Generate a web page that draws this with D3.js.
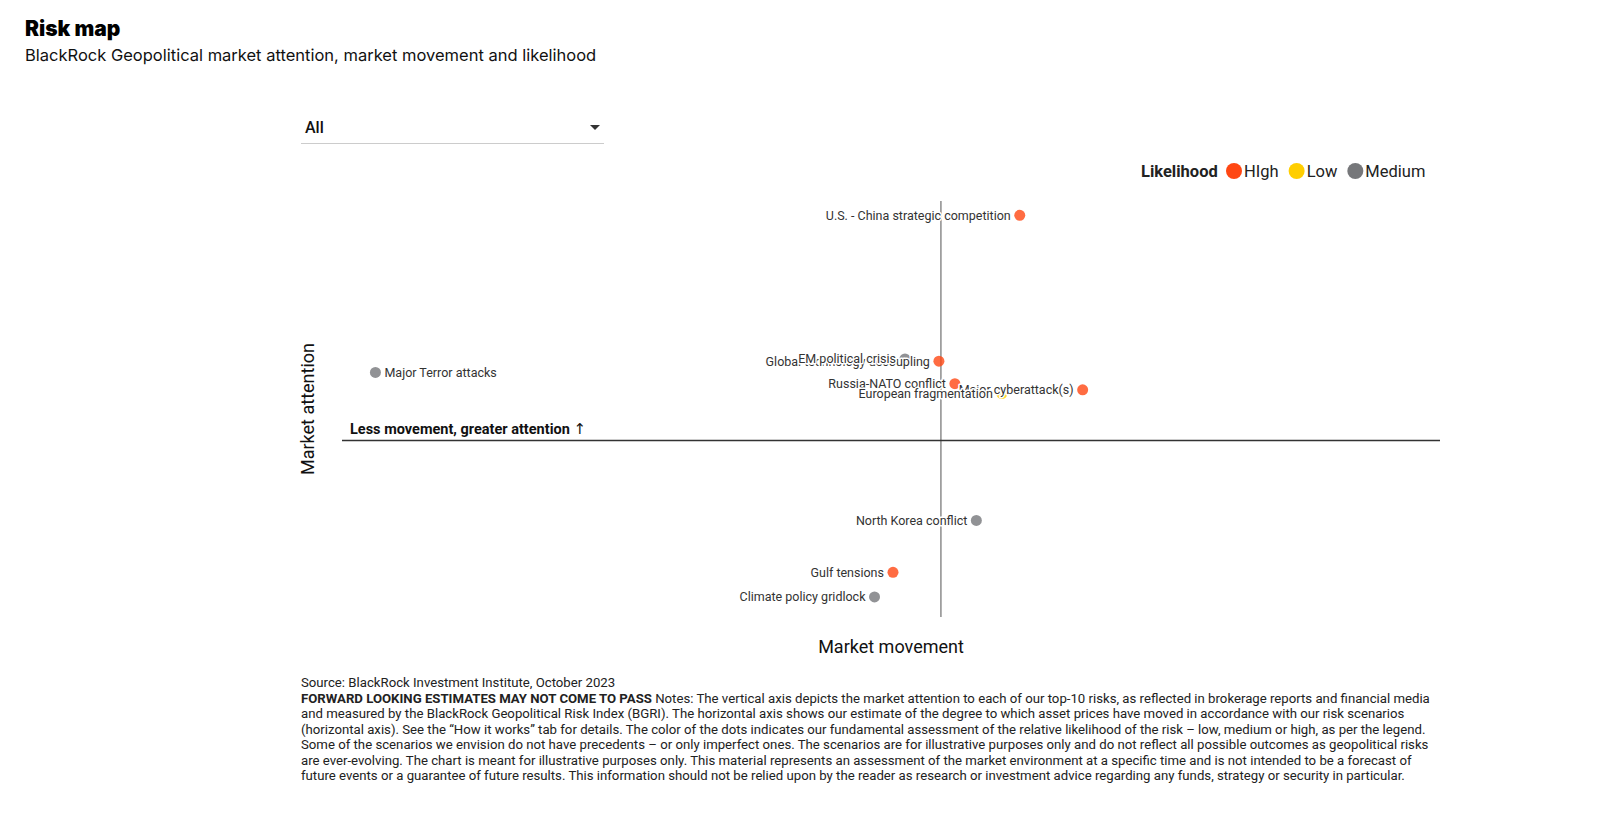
<!DOCTYPE html>
<html>
<head>
<meta charset="utf-8">
<script src="https://cdn.jsdelivr.net/npm/d3@7"></script>
<style>
  html, body { margin: 0; padding: 0; background: #fff; }
  svg { display: block; font-family: Roboto, "Noto Sans", sans-serif; }
</style>
</head>
<body>
<svg id="chart" width="1600" height="816"></svg>
<script>
// ---------- data ----------
const risks = [
  "U.S. - China strategic competition",
  "Global technology decoupling",
  "EM political crisis",
  "Major Terror attacks",
  "Russia-NATO conflict",
  "Major cyberattack(s)",
  "European fragmentation",
  "North Korea conflict",
  "Gulf tensions",
  "Climate policy gridlock"
];
const movement  = [0.158, -0.004, -0.072, -1.133, 0.028, 0.284, 0.122, 0.071, -0.096, -0.133];
const attention = [1.786, 0.629, 0.647, 0.540, 0.451, 0.402, 0.373, -0.634, -1.046, -1.241];
const likelihood = ["HIgh", "HIgh", "Medium", "Medium", "HIgh", "HIgh", "Low", "Medium", "HIgh", "Medium"];
const likelihoodLevels = ["HIgh", "Low", "Medium"];
const likelihoodColors = ["#ff4713", "#ffce00", "#76777a"];

const footnoteLines = [
  "Source: BlackRock Investment Institute, October 2023",
  "Notes: The vertical axis depicts the market attention to each of our top-10 risks, as reflected in brokerage reports and financial media",
  "and measured by the BlackRock Geopolitical Risk Index (BGRI). The horizontal axis shows our estimate of the degree to which asset prices have moved in accordance with our risk scenarios",
  "(horizontal axis). See the \u201cHow it works\u201d tab for details. The color of the dots indicates our fundamental assessment of the relative likelihood of the risk \u2013 low, medium or high, as per the legend.",
  "Some of the scenarios we envision do not have precedents \u2013 or only imperfect ones. The scenarios are for illustrative purposes only and do not reflect all possible outcomes as geopolitical risks",
  "are ever-evolving. The chart is meant for illustrative purposes only. This material represents an assessment of the market environment at a specific time and is not intended to be a forecast of",
  "future events or a guarantee of future results. This information should not be relied upon by the reader as research or investment advice regarding any funds, strategy or security in particular."
];
const footnoteBold = "FORWARD LOOKING ESTIMATES MAY NOT COME TO PASS";

const data = risks.map((r, i) => ({ name: r, x: movement[i], y: attention[i], l: likelihood[i] }));

// ---------- layout ----------
const svg = d3.select("#chart");
const plotLeft = 342, plotRight = 1440, plotTop = 201, plotBottom = 617;

const x = d3.scaleLinear().domain([-1.2, 1.0]).range([plotLeft, plotRight]);
const y = d3.scaleLinear().domain([-1.4, 1.9]).range([plotBottom, plotTop]);
const color = d3.scaleOrdinal().domain(likelihoodLevels).range(likelihoodColors);

// title
svg.append("text").attr("x", 25).attr("y", 36)
  .style("font-family", "Inter, Roboto, sans-serif").style("font-weight", 900)
  .style("font-size", "21px").attr("fill", "#000").text("Risk map");
svg.append("text").attr("x", 25).attr("y", 61)
  .style("font-family", "Inter, Roboto, sans-serif").style("font-size", "16.5px")
  .attr("fill", "#111").text("BlackRock Geopolitical market attention, market movement and likelihood");

// dropdown
svg.append("text").attr("x", 305).attr("y", 133)
  .style("font-size", "16px").style("font-weight", 500).attr("fill", "#111").text("All");
svg.append("path").attr("d", "M590,125 L600,125 L595,130 Z").attr("fill", "#333");
svg.append("line").attr("x1", 301).attr("x2", 604).attr("y1", 143.5).attr("y2", 143.5)
  .attr("stroke", "#ccc").attr("stroke-width", 1);

// legend
const legend = svg.append("g").attr("transform", "translate(0,171)");
legend.append("text").attr("x", 1141).attr("y", 6).style("font-size", "16.5px").style("font-weight", 700)
  .attr("fill", "#222").text("Likelihood");
let lx = 1234;
likelihoodLevels.forEach(lv => {
  legend.append("circle").attr("cx", lx).attr("cy", 0).attr("r", 8).attr("fill", color(lv));
  const t = legend.append("text").attr("x", lx + 10).attr("y", 6).style("font-size", "16.5px")
    .attr("fill", "#222").text(lv);
  lx += 10 + t.node().getComputedTextLength() + 18;
});

// zero lines
svg.append("line").attr("x1", x(0)).attr("x2", x(0)).attr("y1", plotTop).attr("y2", plotBottom)
  .attr("stroke", "#8c8c8c").attr("stroke-width", 1.5);
svg.append("line").attr("x1", plotLeft).attr("x2", plotRight).attr("y1", y(0)).attr("y2", y(0))
  .attr("stroke", "#333").attr("stroke-width", 1.5);

svg.append("text").attr("x", 350).attr("y", y(0) - 7)
  .style("font-size", "14.5px").style("font-weight", 700).attr("fill", "#111")
  .text("Less movement, greater attention ")
  .append("tspan").style("font-family", "DejaVu Sans").style("font-weight", 400).style("font-size", "15px").text("\u2191");

// axis labels
svg.append("text").attr("transform", `translate(${plotLeft - 34},${(plotTop + plotBottom) / 2}) rotate(-90)`)
  .attr("text-anchor", "middle").attr("dy", "0.35em").style("font-size", "18px").attr("fill", "#111")
  .text("Market attention");
svg.append("text").attr("x", (plotLeft + plotRight) / 2).attr("y", 653).attr("text-anchor", "middle")
  .style("font-size", "18px").attr("fill", "#111").text("Market movement");

// dots
svg.append("g").selectAll("circle").data(data).join("circle")
  .attr("cx", d => x(d.x)).attr("cy", d => y(d.y)).attr("r", 5.5)
  .attr("fill", d => color(d.l)).attr("fill-opacity", 0.8);

// labels
svg.append("g").selectAll("text").data(data).join("text")
  .attr("x", d => d.name === "Major Terror attacks" ? x(d.x) + 9 : x(d.x) - 9)
  .attr("y", d => y(d.y)).attr("dy", "0.35em")
  .attr("text-anchor", d => d.name === "Major Terror attacks" ? "start" : "end")
  .style("font-size", "12.5px").attr("fill", "#333")
  .attr("stroke", "#fff").attr("stroke-width", 3).attr("paint-order", "stroke")
  .attr("stroke-linejoin", "round")
  .text(d => d.name);

// footnote
const fn = svg.append("g").style("font-size", "13.2px").attr("fill", "#222");
footnoteLines.forEach((line, i) => {
  const t = fn.append("text").attr("x", 301).attr("y", 687 + i * 15.5);
  if (i === 1) {
    t.append("tspan").style("font-weight", 700).text(footnoteBold + " ");
  }
  t.append("tspan").text(line);
});
</script>
</body>
</html>
